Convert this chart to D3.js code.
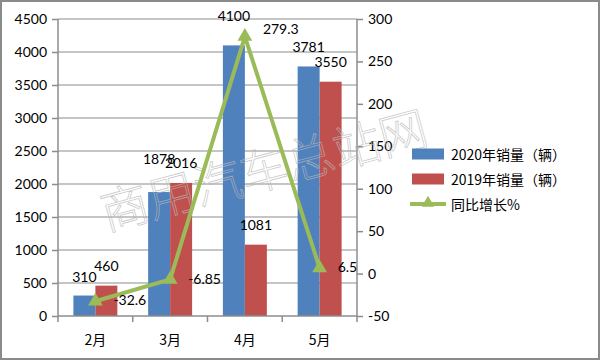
<!DOCTYPE html>
<html><head><meta charset="utf-8">
<script src="https://cdn.jsdelivr.net/npm/d3@7"></script>
<style>body{margin:0;background:#fff}svg{display:block}text{font-family:Lato,"Noto Sans CJK SC",sans-serif}</style>
</head><body><svg id="c" width="600" height="360"></svg>
<script>
const categories = ["2月","3月","4月","5月"];
const sales2020 = [310,1878,4100,3781];
const sales2019 = [460,2016,1081,3550];
const growth = [-32.6,-6.85,279.3,6.5];
const growthLabels = ["-32.6","-6.85","279.3","6.5"];
const leftTicks = [0,500,1000,1500,2000,2500,3000,3500,4000,4500];
const rightTicks = [-50,0,50,100,150,200,250,300];
const seriesNames = ["2020年销量（辆）","2019年销量（辆）","同比增长%"];
const watermark = "商用汽车总站网";
// label nudges (layout, px)
const nudge2020 = [0,-14,-10,0];
const nudge2019 = [0,0,0,0];
const nudgeGrowth = [4,5,-3,4];

const W=600,H=360,L=58,R=357,T=19,B=316;
const C={blue:"#4F81BD",red:"#C0504D",green:"#9BBB59",grid:"#8c8c8c",axis:"#8c8c8c"};
const svg=d3.select("#c");
svg.append("rect").attr("x",1).attr("y",1).attr("width",W-2).attr("height",H-2).attr("fill","#fff").attr("stroke","#8a8a8a").attr("stroke-width",2);

const x=d3.scaleBand().domain(categories).range([L,R]);
const xs=d3.scaleBand().domain(["a","b"]).range([0,x.bandwidth()]).paddingOuter(0.7).paddingInner(0);
const yL=d3.scaleLinear().domain([0,4500]).range([B,T]);
const yR=d3.scaleLinear().domain([-50,300]).range([B,T]);

// gridlines
svg.append("g").selectAll("line").data(leftTicks.filter(d=>d>0)).join("line")
 .attr("x1",L).attr("x2",R).attr("y1",d=>yL(d)).attr("y2",d=>yL(d))
 .attr("stroke",C.grid).attr("stroke-width",1.2);

// bars
const g=svg.append("g");
g.selectAll(".b20").data(sales2020).join("rect")
 .attr("x",(d,i)=>x(categories[i])+xs("a")).attr("width",xs.bandwidth())
 .attr("y",d=>yL(d)).attr("height",d=>B-yL(d)).attr("fill",C.blue);
g.selectAll(".b19").data(sales2019).join("rect").attr("class","b19")
 .attr("x",(d,i)=>x(categories[i])+xs("b")).attr("width",xs.bandwidth())
 .attr("y",d=>yL(d)).attr("height",d=>B-yL(d)).attr("fill",C.red);

// axes
const fmt=d=>String(d);
const axL=d3.axisLeft(yL).tickValues(leftTicks).tickFormat(fmt).tickSize(6).tickPadding(5);
const gl=svg.append("g").attr("transform",`translate(${L},0)`).call(axL);
const axR=d3.axisRight(yR).tickValues(rightTicks).tickFormat(fmt).tickSize(6).tickPadding(5);
const gr=svg.append("g").attr("transform",`translate(${R},0)`).call(axR);
const axB=d3.axisBottom(x).tickSize(0).tickPadding(19);
const gb=svg.append("g").attr("transform",`translate(0,${B})`).call(axB);
[gl,gr,gb].forEach(a=>{a.selectAll("path,line").attr("stroke",C.axis).attr("stroke-width",1.5);
 a.selectAll("text").style("font-size","14px").attr("fill","#000");});
gl.select(".domain").attr("d",`M0,${T}V${B}`);
gr.select(".domain").attr("d",`M0,${T}V${B}`);
gb.select(".domain").attr("d",`M${L},0H${R}`);
gb.selectAll("text").style("font-family","'Noto Sans CJK SC'").style("font-size","14px");
// category boundary ticks
svg.append("g").selectAll("line").data(categories.map(c=>x(c)).concat([R])).join("line")
 .attr("x1",d=>d).attr("x2",d=>d).attr("y1",B).attr("y2",B+6).attr("stroke",C.axis).attr("stroke-width",1.5);

// watermark
svg.append("text").attr("transform","translate(263,167) rotate(-15)")
 .attr("text-anchor","middle").attr("dominant-baseline","central")
 .style("font-family","'Noto Sans CJK SC'").style("font-weight",200).style("font-size","48px")
 .attr("fill","none").attr("stroke","#b8b8b8").attr("stroke-opacity",0.75).attr("stroke-width",0.8).text(watermark);

// line
const cx=i=>x(categories[i])+x.bandwidth()/2;
svg.append("path").datum(growth).attr("fill","none").attr("stroke",C.green).attr("stroke-width",4).attr("stroke-linejoin","miter")
 .attr("d",d3.line().x((d,i)=>cx(i)).y(d=>yR(d)));
const tri=d3.symbol().type(d3.symbolTriangle).size(95);
svg.append("g").selectAll("path").data(growth).join("path")
 .attr("transform",(d,i)=>`translate(${cx(i)},${yR(d)})`).attr("d",tri).attr("fill",C.green);

// labels
const lab=svg.append("g").style("font-size","14px").attr("fill","#000");
lab.selectAll(".l20").data(sales2020).join("text").attr("class","l20").attr("text-anchor","middle")
 .attr("x",(d,i)=>x(categories[i])+xs("a")+xs.bandwidth()/2).attr("y",(d,i)=>yL(d)-14+nudge2020[i]).text(d=>d);
lab.selectAll(".l19").data(sales2019).join("text").attr("class","l19").attr("text-anchor","middle")
 .attr("x",(d,i)=>x(categories[i])+xs("b")+xs.bandwidth()/2).attr("y",(d,i)=>yL(d)-15+nudge2019[i]).text(d=>d);
lab.selectAll(".lg").data(growth).join("text").attr("class","lg").attr("text-anchor","start")
 .attr("x",(d,i)=>cx(i)+18).attr("y",(d,i)=>yR(d)+nudgeGrowth[i]).text((d,i)=>growthLabels[i]);

// legend
const lg=svg.append("g").attr("transform","translate(412,154)");
const items=lg.selectAll("g").data(seriesNames).join("g").attr("transform",(d,i)=>`translate(0,${i*25})`);
items.each(function(d,i){
 const s=d3.select(this);
 if(i<2){s.append("rect").attr("x",0).attr("y",-5.5).attr("width",32).attr("height",11).attr("fill",i?C.red:C.blue);}
 else{s.append("line").attr("x1",-2).attr("x2",34).attr("y1",0).attr("y2",0).attr("stroke",C.green).attr("stroke-width",4);
  s.append("path").attr("d",d3.symbol().type(d3.symbolTriangle).size(70)).attr("transform","translate(16,-1)").attr("fill",C.green);}
 s.append("text").attr("x",39).attr("y",6).style("font-family","'Noto Sans CJK SC'").style("font-size","14px").attr("fill","#000").text(d);
});
</script></body></html>
